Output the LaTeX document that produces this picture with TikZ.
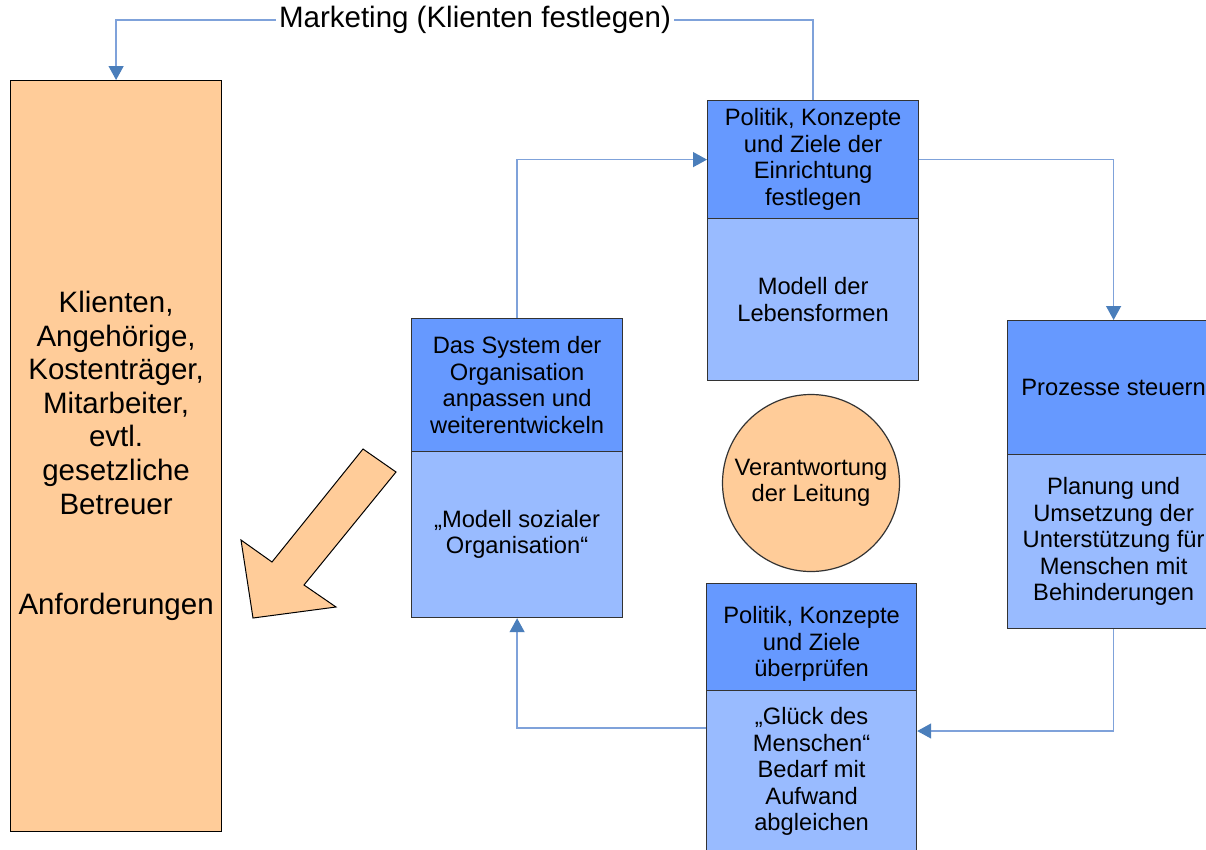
\documentclass[tikz,border=0pt]{standalone}
\usepackage{fontspec}
\setmainfont{Liberation Sans}
\usetikzlibrary{arrows.meta,shapes.geometric}
\definecolor{darkbl}{HTML}{6699FF}
\definecolor{lightbl}{HTML}{99BBFF}
\definecolor{peach}{HTML}{FFCC99}
\definecolor{connline}{HTML}{7FA2DA}
\definecolor{headbl}{HTML}{4A7EBB}
\definecolor{edge}{HTML}{333333}
\tikzset{
  part/.style={draw=edge, line width=1.2pt, anchor=north west, inner sep=0pt, align=center,
    font=\fontsize{23.7pt}{26.5pt}\selectfont},
  hdr/.style={part, fill=darkbl},
  body/.style={part, fill=lightbl},
  conn/.style={draw=connline, line width=1.3pt,
    -{Triangle[width=15pt,length=14pt,color=headbl]}},
  connplain/.style={draw=connline, line width=1.3pt},
  bigtext/.style={font=\fontsize{29.5pt}{33.6pt}\selectfont}
}
\begin{document}
\begin{tikzpicture}[x=1pt,y=-1pt]
\clip (0,0) rectangle (1206,849);
\fill[white] (0,0) rectangle (1206,849);

% left big box
\node[part, fill=peach, draw=black, minimum width=211pt, minimum height=751pt, bigtext] (lbox) at (10,80)
  {Klienten,\\Angehörige,\\Kostenträger,\\Mitarbeiter,\\evtl.\\gesetzliche\\Betreuer\\~\\~\\Anforderungen};

% top box
\node[hdr, minimum width=211pt, minimum height=118pt] (ptop) at (707,100)
  {Politik, Konzepte\\und Ziele der\\Einrichtung\\festlegen};
\node[body, minimum width=211pt, minimum height=162pt] (pbot) at (707,218)
  {Modell der\\Lebensformen};

% left middle box
\node[hdr, minimum width=211pt, minimum height=133pt] (stop) at (411,318)
  {Das System der\\Organisation\\anpassen und\\weiterentwickeln};
\node[body, minimum width=211pt, minimum height=166pt] (sbot) at (411,451)
  {„Modell sozialer\\Organisation“};

% right box
\node[hdr, minimum width=212pt, minimum height=134pt] (rtop) at (1007,320)
  {Prozesse steuern};
\node[body, minimum width=212pt, minimum height=174pt] (rbot) at (1007,454)
  {Planung und\\Umsetzung der\\Unterstützung für\\Menschen mit\\Behinderungen};

% bottom box
\node[hdr, minimum width=210pt, minimum height=107pt] (btop) at (706,583)
  {\strut\\[-14pt]Politik, Konzepte\\und Ziele\\überprüfen};
\node[body, minimum width=210pt, minimum height=162pt] (bbot) at (706,690)
  {„Glück des\\Menschen“\\Bedarf mit\\Aufwand\\abgleichen};

% circle
\node[circle, draw=edge, line width=1.2pt, fill=peach, minimum size=177pt, inner sep=0pt,
  align=center, font=\fontsize{23.7pt}{26.5pt}\selectfont] (circ) at (811,483)
  {Verantwortung\\der Leitung};

% block arrow
\filldraw[fill=peach, draw=black, line width=1pt]
  (363,449) -- (396,472) -- (304,585) -- (336,607) -- (253,618) -- (241,540) -- (272,562) -- cycle;

% marketing label and connector
\node[bigtext, fill=white, inner sep=3pt] (mkt) at (475,20) {Marketing (Klienten festlegen)};
\draw[connplain] (ptop.north) |- (mkt.east);
\draw[conn] (mkt.west) -| (lbox.north);

% cycle connectors
\draw[conn] (stop.north) |- (ptop.west);
\draw[conn] (ptop.east) -| (rtop.north);
\draw[conn] (rbot.south) |- ([yshift=-41pt]bbot.north east);
\draw[conn] ([yshift=-38pt]bbot.north west) -| (sbot.south);
\end{tikzpicture}
\end{document}
